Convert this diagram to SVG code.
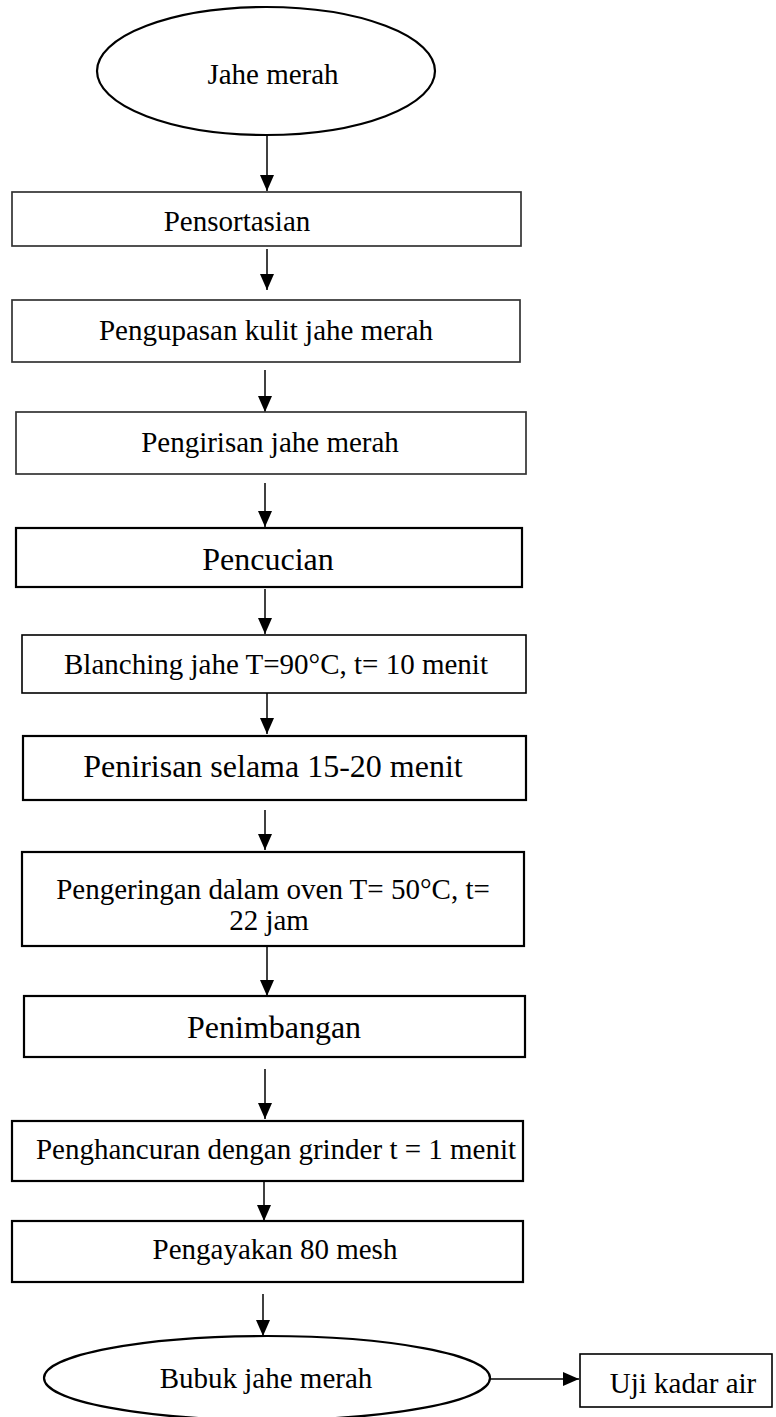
<svg xmlns="http://www.w3.org/2000/svg" width="776" height="1417" viewBox="0 0 776 1417">
  <style>
    .t { font-family: "Liberation Serif", "Times New Roman", serif; font-size: 29px; fill: #000; text-anchor: middle; }
    .big { font-size: 32px; }
    .box { fill: #fff; stroke: #000; stroke-width: 1.6; }
    .box.grey { stroke: #333; stroke-width: 1.7; }
    .box.heavy { stroke-width: 2.2; }
    .oval { fill: #fff; stroke: #000; stroke-width: 2.2; }
    .link { stroke: #000; stroke-width: 1.5; fill: none; marker-end: url(#ah); }
  </style>
  <defs>
    <marker id="ah" viewBox="0 0 16 14" refX="16" refY="7" markerWidth="16" markerHeight="14" markerUnits="userSpaceOnUse" orient="auto">
      <path d="M0,0 L16,7 L0,14 z" fill="#000"/>
    </marker>
  </defs>
  <rect width="776" height="1417" fill="#fff"/>

  <g id="connectors">
    <line class="link" x1="267" y1="135" x2="267" y2="191"/>
    <line class="link" x1="267" y1="249" x2="267" y2="290"/>
    <line class="link" x1="265" y1="370" x2="265" y2="412"/>
    <line class="link" x1="265" y1="483" x2="265" y2="527"/>
    <line class="link" x1="265" y1="589" x2="265" y2="634"/>
    <line class="link" x1="267" y1="693" x2="267" y2="734"/>
    <line class="link" x1="265" y1="810" x2="265" y2="850"/>
    <line class="link" x1="267" y1="946" x2="267" y2="996"/>
    <line class="link" x1="265" y1="1069" x2="265" y2="1119"/>
    <line class="link" x1="264" y1="1181" x2="264" y2="1221"/>
    <line class="link" x1="263" y1="1294" x2="263" y2="1336"/>
    <line class="link" x1="490" y1="1379" x2="579" y2="1379"/>
  </g>

  <g id="jahe-merah">
    <ellipse class="oval" cx="266" cy="71" rx="169" ry="64"/>
    <text class="t" x="273" y="84">Jahe merah</text>
  </g>

  <g id="pensortasian">
    <rect class="box grey" x="12" y="192" width="509" height="54"/>
    <text class="t" x="237" y="231">Pensortasian</text>
  </g>

  <g id="pengupasan">
    <rect class="box grey" x="12" y="300" width="508" height="62"/>
    <text class="t" x="266" y="340">Pengupasan kulit jahe merah</text>
  </g>

  <g id="pengirisan">
    <rect class="box grey" x="16" y="412" width="510" height="62"/>
    <text class="t" x="270" y="452">Pengirisan jahe merah</text>
  </g>

  <g id="pencucian">
    <rect class="box heavy" x="16" y="528" width="506" height="59"/>
    <text class="t big" x="268" y="570">Pencucian</text>
  </g>

  <g id="blanching">
    <rect class="box" x="22" y="635" width="504" height="58"/>
    <text class="t" x="276" y="674">Blanching jahe T=90°C, t= 10 menit</text>
  </g>

  <g id="penirisan">
    <rect class="box heavy" x="23" y="736" width="503" height="64"/>
    <text class="t big" x="273" y="777">Penirisan selama 15-20 menit</text>
  </g>

  <g id="pengeringan">
    <rect class="box heavy" x="22" y="852" width="502" height="94"/>
    <text class="t" x="273" y="899">Pengeringan dalam oven T= 50°C, t=</text>
    <text class="t" x="269" y="930">22 jam</text>
  </g>

  <g id="penimbangan">
    <rect class="box heavy" x="24" y="996" width="501" height="61"/>
    <text class="t big" x="274" y="1038">Penimbangan</text>
  </g>

  <g id="penghancuran">
    <rect class="box heavy" x="12" y="1121" width="511" height="60"/>
    <text class="t" x="276" y="1159">Penghancuran dengan grinder t = 1 menit</text>
  </g>

  <g id="pengayakan">
    <rect class="box heavy" x="12" y="1221" width="511" height="61"/>
    <text class="t" x="275" y="1259">Pengayakan 80 mesh</text>
  </g>

  <g id="bubuk-jahe-merah">
    <ellipse class="oval" cx="267" cy="1378" rx="223" ry="42"/>
    <text class="t" x="266" y="1388">Bubuk jahe merah</text>
  </g>

  <g id="uji-kadar-air">
    <rect class="box" x="580" y="1354" width="192" height="53"/>
    <text class="t" x="683" y="1393">Uji kadar air</text>
  </g>
</svg>
